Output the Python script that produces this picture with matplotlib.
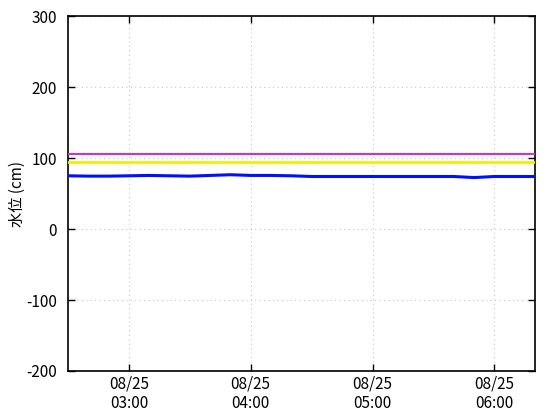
import datetime as dt
import matplotlib
matplotlib.use("Agg")
import matplotlib.pyplot as plt
import matplotlib.dates as mdates

plt.rcParams['font.family'] = ['Noto Sans CJK JP', 'DejaVu Sans']
plt.rcParams['axes.unicode_minus'] = False

# 10-minute water level readings, 08/25 02:30 - 06:20
start = dt.datetime(2024, 8, 25, 2, 30)
levels = [75, 74.5, 74.5, 75, 75.5, 75, 74.5, 75.5, 76.5, 75.5, 75.5, 75, 74,
          74, 74, 74, 74, 74, 74, 74, 72.5, 74, 74, 74]
times = [start + dt.timedelta(minutes=10 * i) for i in range(len(levels))]

# reference levels (cm)
level_red = 106
level_magenta = 105
level_yellow = 94

fig = plt.figure(figsize=(5.6, 4.2), dpi=100)
ax = fig.add_axes([0.1214, 0.1167, 0.834, 0.845])

ax.axhline(level_red, color='#d01060', lw=1.2, zorder=3)
ax.axhline(level_magenta, color='#cc33cc', lw=1.5, zorder=3)
ax.axhline(level_yellow, color='#f0f000', lw=2, zorder=3)
ax.plot(times, levels, color='#0010ff', lw=2.2, zorder=4)

ax.set_xlim(times[0], times[-1])
ax.set_ylim(-200, 300)
ax.set_yticks(range(-200, 301, 100))
ax.xaxis.set_major_locator(mdates.HourLocator())
ax.xaxis.set_major_formatter(mdates.DateFormatter('%m/%d\n%H:%M'))

ax.grid(True, color='#c8c8c8', linestyle=(0, (1, 3)), lw=0.8)
ax.tick_params(direction='in', length=5, top=True, right=True, labelsize=11, width=1)
ax.tick_params(axis='y', pad=8)
for s in ax.spines.values():
    s.set_linewidth(1.2)
ax.set_ylabel('水位 (cm)', fontsize=11, labelpad=0)

fig.savefig('out.png', dpi=100)
